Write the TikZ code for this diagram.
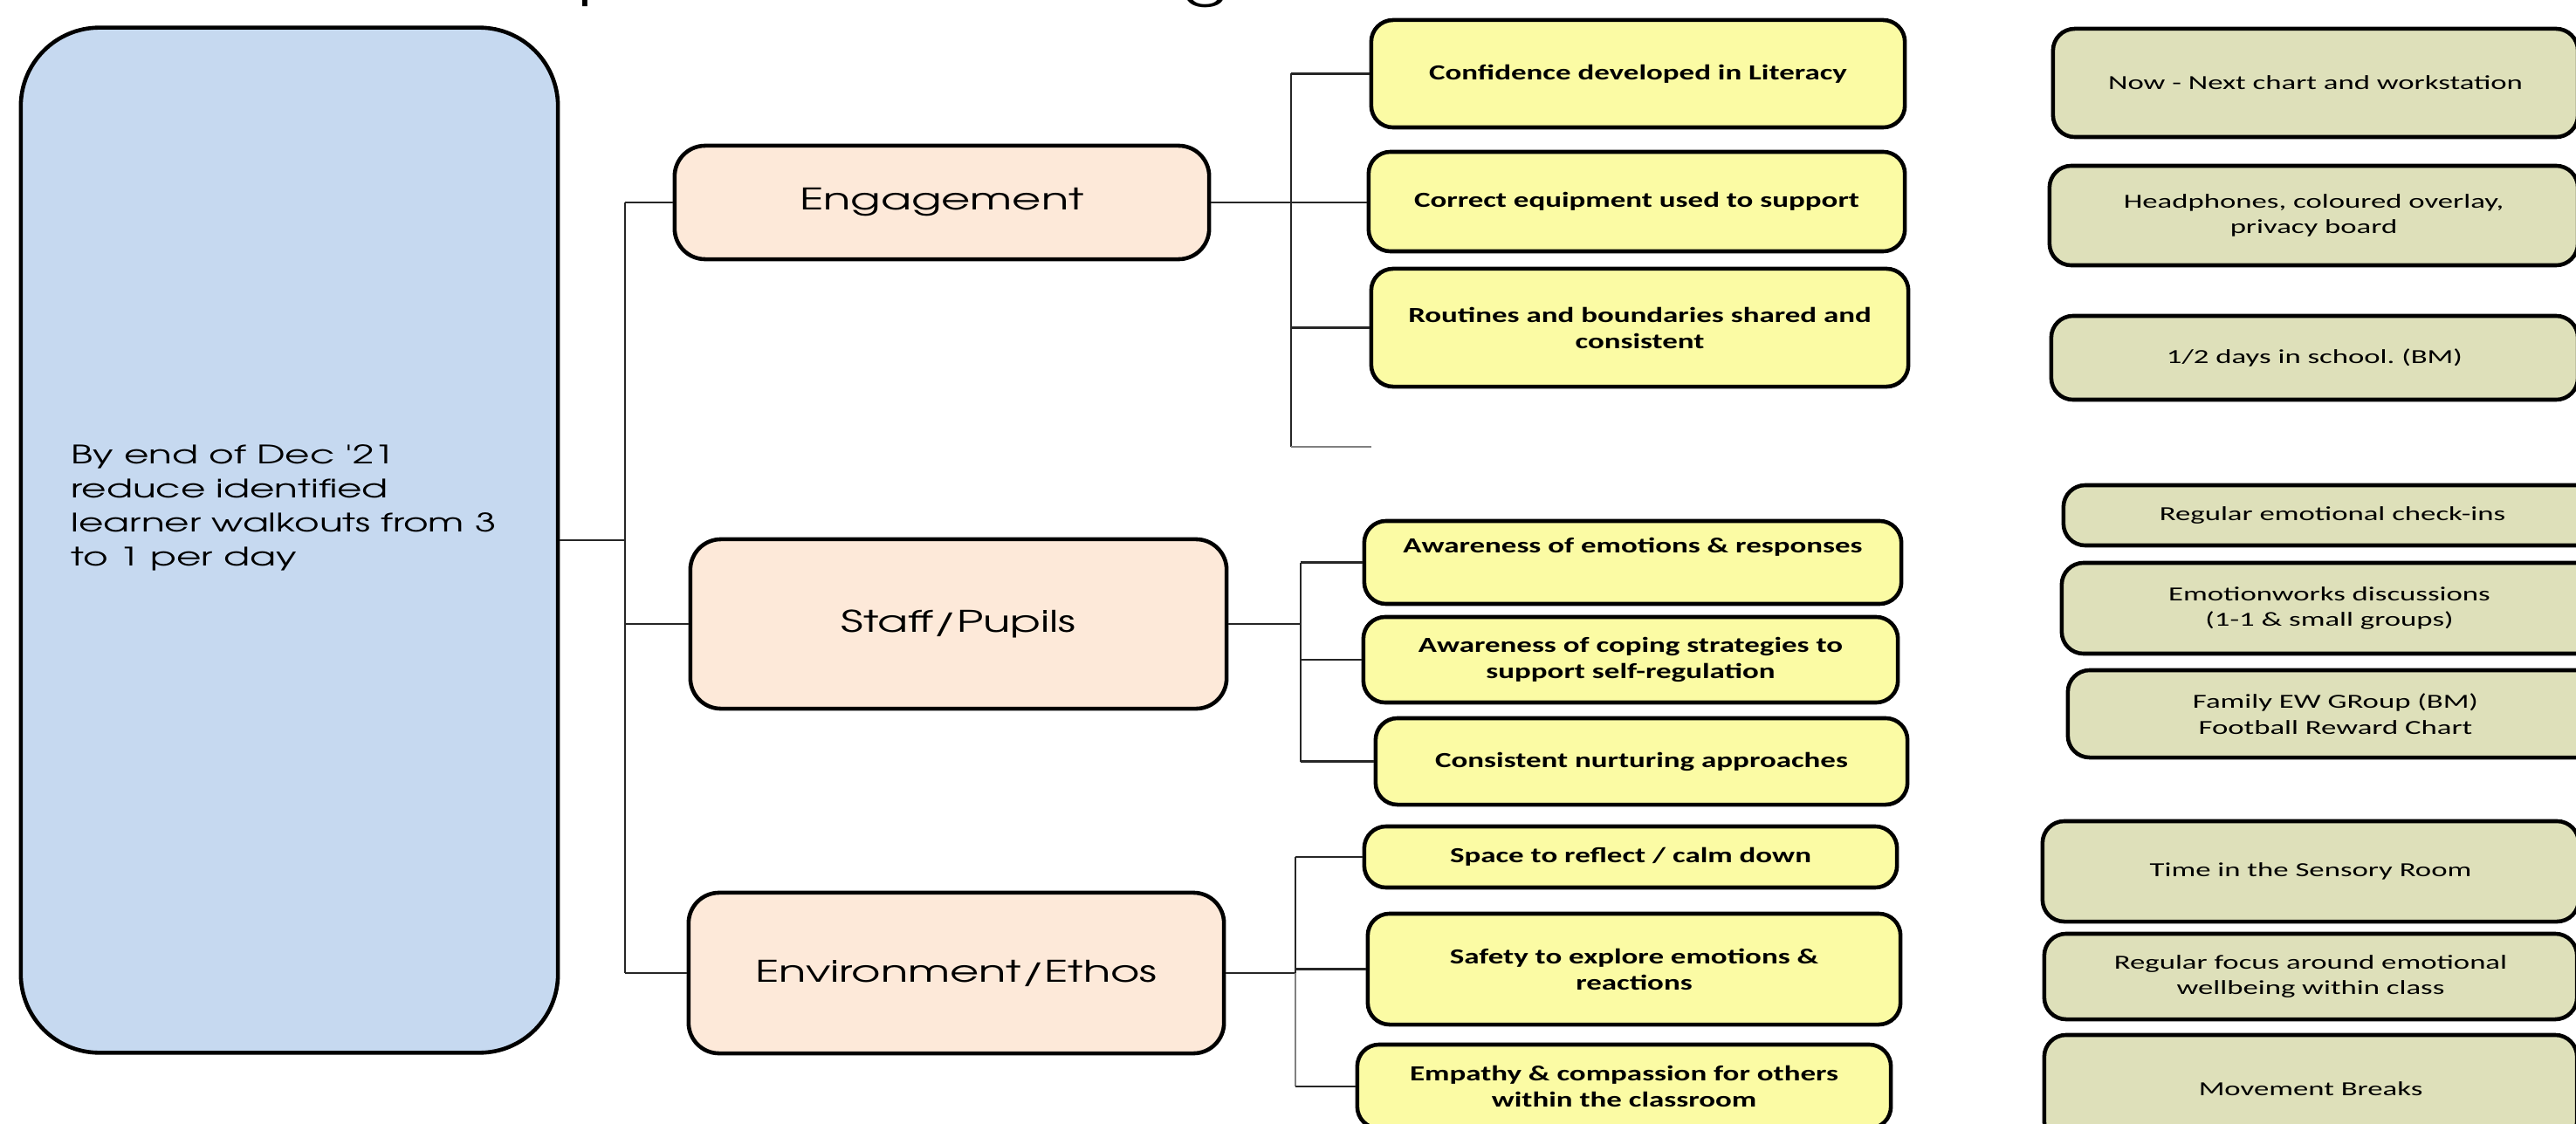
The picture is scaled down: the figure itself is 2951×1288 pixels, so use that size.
\documentclass[tikz,border=0pt]{standalone}
\usepackage{fontspec}
\setmainfont{Carlito}
\newfontfamily\gothic[FakeStretch=1.5]{texgyreadventor-regular.otf}
\newfontfamily\calstr[FakeStretch=1.42]{Carlito}
\newfontfamily\calwide[FakeStretch=1.52]{Carlito}
\definecolor{rootblue}{HTML}{C6D9F0}
\definecolor{peach}{HTML}{FDE9D9}
\definecolor{yel}{HTML}{FBFBA4}
\definecolor{grn}{HTML}{DEE0BA}
\frenchspacing
\begin{document}
\begin{tikzpicture}[x=0.01cm,y=-0.01cm,
  rootbox/.style={draw, line width=1.3pt, fill=rootblue, rounded corners=0.9cm, inner sep=0pt},
  catbox/.style={draw, line width=1.3pt, fill=peach, rounded corners=0.35cm, inner sep=0pt,
    font=\gothic\fontsize{9.7}{12}\selectfont},
  ybox/.style={draw, line width=1.3pt, fill=yel, rounded corners=0.25cm, inner sep=0pt, align=center,
    font=\calstr\bfseries\fontsize{7}{8.5}\selectfont},
  gbox/.style={draw, line width=1.3pt, fill=grn, rounded corners=0.25cm, inner sep=0pt, align=center,
    font=\calwide\fontsize{6.5}{8.4}\selectfont},
  link/.style={line width=0.8pt, draw=black!85},
  glink/.style={line width=0.8pt, draw=black!50},
  titlebit/.style={font=\gothic\fontsize{15}{18}\selectfont, inner sep=0pt, anchor=base}
]
\useasboundingbox (0,0) rectangle (2951,1288);

% cut-off title letters
\node[titlebit] (tp) at (689,-2) {p};
\node[titlebit] (tg) at (1381,-2) {g};

% root
\node[rootbox, minimum width=6.15cm, minimum height=11.74cm] (root) at (331.5,619) {};
\node[anchor=west, align=left, inner sep=0pt, font=\gothic\fontsize{8.3}{11.1}\selectfont] (roottext) at (81,582)
  {By end of Dec '21\\reduce identified\\learner walkouts from 3\\to 1 per day};

% categories
\node[catbox, minimum width=6.12cm, minimum height=1.30cm] (eng) at (1079,232) {Engagement};
\node[catbox, minimum width=6.14cm, minimum height=1.94cm] (staff) at (1098,715) {Staff/Pupils};
\node[catbox, minimum width=6.13cm, minimum height=1.84cm] (env) at (1095.5,1115) {Environment/Ethos};

% yellow outcomes
\node[ybox, minimum width=6.11cm, minimum height=1.23cm] (y1) at (1876.5,84.5) {Confidence developed in Literacy};
\node[ybox, minimum width=6.14cm, minimum height=1.14cm] (y2) at (1875,231) {Correct equipment used to support};
\node[ybox, minimum width=6.15cm, minimum height=1.35cm] (y3) at (1878.5,375.5) {Routines and boundaries shared and\\consistent};
\node[ybox, minimum width=6.15cm, minimum height=0.95cm] (y4) at (1870.5,644.5) {Awareness of emotions \& responses\\\strut};
\node[ybox, minimum width=6.12cm, minimum height=0.98cm] (y5) at (1868,756) {Awareness of coping strategies to\\support self-regulation};
\node[ybox, minimum width=6.09cm, minimum height=0.99cm] (y6) at (1880.5,872.5) {Consistent nurturing approaches};
\node[ybox, minimum width=6.10cm, minimum height=0.70cm] (y7) at (1868,982) {Space to reflect / calm down};
\node[ybox, minimum width=6.10cm, minimum height=1.27cm] (y8) at (1872,1110.5) {Safety to explore emotions \&\\reactions};
\node[ybox, minimum width=6.11cm, minimum height=0.96cm] (y9) at (1860.5,1245) {Empathy \& compassion for others\\within the classroom};

% green actions
\node[gbox, minimum width=6.01cm, minimum height=1.24cm] (g1) at (2652.5,95) {Now - Next chart and workstation};
\node[gbox, minimum width=6.05cm, minimum height=1.14cm] (g2) at (2650.5,247) {Headphones, coloured overlay,\\privacy board};
\node[gbox, minimum width=6.03cm, minimum height=0.96cm] (g3) at (2651.5,410) {1/2 days in school. (BM)};
\node[gbox, minimum width=6.16cm, minimum height=0.69cm] (g4) at (2672,590.5) {Regular emotional check-ins};
\node[gbox, minimum width=6.13cm, minimum height=1.04cm] (g5) at (2668.5,697) {Emotionworks discussions\\(1-1 \& small groups)};
\node[gbox, minimum width=6.13cm, minimum height=1.00cm] (g6) at (2675.5,818) {Family EW GRoup (BM)\\Football Reward Chart};
\node[gbox, minimum width=6.14cm, minimum height=1.15cm] (g7) at (2647,998.5) {Time in the Sensory Room};
\node[gbox, minimum width=6.10cm, minimum height=0.98cm] (g8) at (2647,1119) {Regular focus around emotional\\wellbeing within class};
\node[gbox, minimum width=6.10cm, minimum height=1.24cm] (g9) at (2647,1248) {Movement Breaks};

% root connectors
\coordinate (j0) at (716,619);
\draw[link] (root.east) -- (j0);
\draw[link] (j0 |- eng.west) -- (j0 |- env.west);
\draw[link] (j0 |- eng.west) -- (eng.west);
\draw[link] (j0 |- staff.west) -- (staff.west);
\draw[link] (j0 |- env.west) -- (env.west);

% engagement connectors
\coordinate (j1) at (1479,232);
\coordinate (stub) at (1571,512);
\draw[link] (eng.east) -- (eng.east -| y2.west);
\draw[link] (j1 |- y1.west) -- (j1 |- stub);
\draw[link] (j1 |- y1.west) -- (y1.west);
\draw[link] (j1 |- y3.west) -- (y3.west);
\draw[glink] (j1 |- stub) -- (stub);

% staff connectors
\coordinate (j2) at (1490,715);
\draw[link] (staff.east) -- (j2);
\draw[link] (j2 |- y4.west) -- (j2 |- y6.west);
\draw[link] (j2 |- y4.west) -- (y4.west);
\draw[link] (j2 |- y5.west) -- (y5.west);
\draw[link] (j2 |- y6.west) -- (y6.west);

% environment connectors
\coordinate (j3) at (1484,1115);
\draw[link] (env.east) -- (j3);
\draw[link] (j3 |- y7.west) -- (j3);
\draw[glink] (j3) -- (j3 |- y9.west);
\draw[link] (j3 |- y7.west) -- (y7.west);
\draw[link] (j3 |- y8.west) -- (y8.west);
\draw[link] (j3 |- y9.west) -- (y9.west);
\end{tikzpicture}
\end{document}
